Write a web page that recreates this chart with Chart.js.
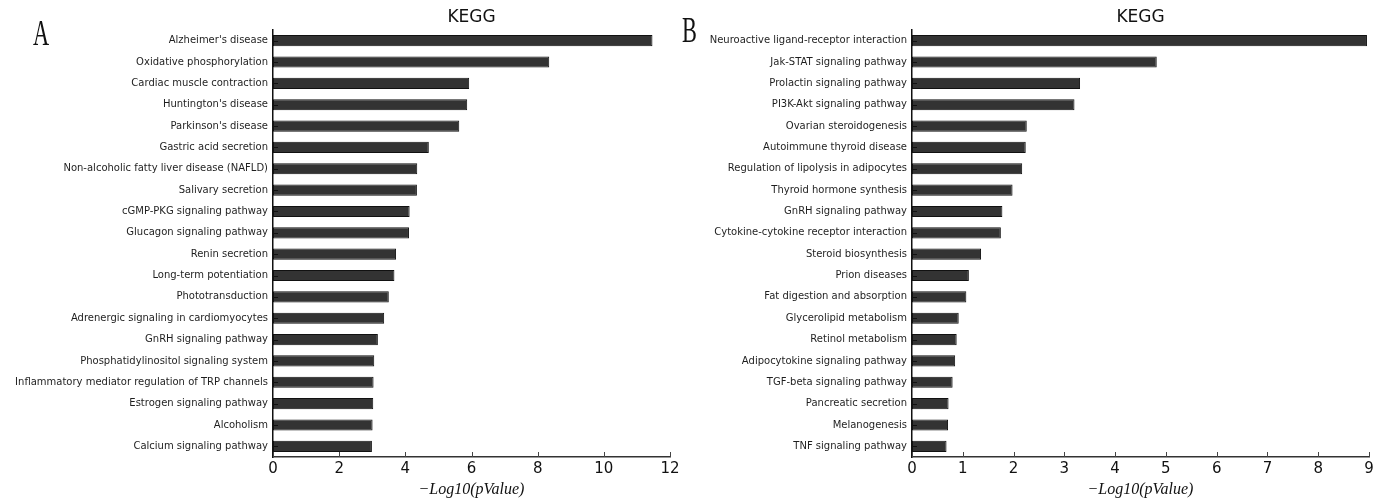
<!DOCTYPE html>
<html>
<head>
<meta charset="utf-8">
<script src="https://cdn.jsdelivr.net/npm/chart.js@4/dist/chart.umd.min.js"></script>
<style>
  html, body { margin: 0; padding: 0; background: #fff; }
  body { width: 1385px; height: 499px; position: relative; overflow: hidden; }
  canvas { position: absolute; top: 0; }
  #chartA { left: 0; }
  #chartB { left: 670px; }
</style>
</head>
<body>
<canvas id="chartA" width="690" height="499"></canvas>
<canvas id="chartB" width="715" height="499"></canvas>
<script>
// Panel A: KEGG pathways, -log10(p)
const pathwaysA = [
  "Alzheimer's disease",
  "Oxidative phosphorylation",
  "Cardiac muscle contraction",
  "Huntington's disease",
  "Parkinson's disease",
  "Gastric acid secretion",
  "Non-alcoholic fatty liver disease (NAFLD)",
  "Salivary secretion",
  "cGMP-PKG signaling pathway",
  "Glucagon signaling pathway",
  "Renin secretion",
  "Long-term potentiation",
  "Phototransduction",
  "Adrenergic signaling in cardiomyocytes",
  "GnRH signaling pathway",
  "Phosphatidylinositol signaling system",
  "Inflammatory mediator regulation of TRP channels",
  "Estrogen signaling pathway",
  "Alcoholism",
  "Calcium signaling pathway"
];
const scoresA = [11.47, 8.35, 5.93, 5.87, 5.63, 4.71, 4.36, 4.35, 4.13, 4.11,
                 3.72, 3.67, 3.50, 3.36, 3.17, 3.06, 3.04, 3.03, 3.01, 2.99];

// Panel B: KEGG pathways, -log10(p)
const pathwaysB = [
  "Neuroactive ligand-receptor interaction",
  "Jak-STAT signaling pathway",
  "Prolactin signaling pathway",
  "PI3K-Akt signaling pathway",
  "Ovarian steroidogenesis",
  "Autoimmune thyroid disease",
  "Regulation of lipolysis in adipocytes",
  "Thyroid hormone synthesis",
  "GnRH signaling pathway",
  "Cytokine-cytokine receptor interaction",
  "Steroid biosynthesis",
  "Prion diseases",
  "Fat digestion and absorption",
  "Glycerolipid metabolism",
  "Retinol metabolism",
  "Adipocytokine signaling pathway",
  "TGF-beta signaling pathway",
  "Pancreatic secretion",
  "Melanogenesis",
  "TNF signaling pathway"
];
const scoresB = [8.96, 4.82, 3.31, 3.20, 2.26, 2.24, 2.17, 1.98, 1.78, 1.75,
                 1.36, 1.12, 1.07, 0.92, 0.88, 0.85, 0.80, 0.72, 0.71, 0.68];

// x-axis ranges
const xMaxA = 12, xStepA = 2;
const xMaxB = 9,  xStepB = 1;

const panelTitle = "KEGG";
const axisTitle = "\u2212Log10(pValue)";

// Title, panel letter and inward tick marks
const decorPlugin = {
  id: 'decor',
  afterDatasetsDraw(chart, args, opts) {
    const ctx = chart.ctx;
    const area = chart.chartArea;
    const xs = chart.scales.x, ys = chart.scales.y;
    ctx.save();
    ctx.strokeStyle = '#111';
    ctx.lineWidth = 1;
    // y ticks pointing into the plot
    ys.ticks.forEach((t, i) => {
      const py = Math.round(ys.getPixelForTick(i)) + 0.5;
      ctx.beginPath();
      ctx.moveTo(area.left, py);
      ctx.lineTo(area.left + 5, py);
      ctx.stroke();
    });
    // x ticks pointing up
    ctx.strokeStyle = '#444';
    xs.ticks.forEach(t => {
      const px = Math.round(xs.getPixelForValue(t.value)) + 0.5;
      ctx.beginPath();
      ctx.moveTo(px, area.bottom);
      ctx.lineTo(px, area.bottom - 5);
      ctx.stroke();
    });
    ctx.restore();
  },
  afterDraw(chart, args, opts) {
    const ctx = chart.ctx;
    const area = chart.chartArea;
    ctx.save();
    ctx.fillStyle = '#111';
    ctx.font = '17px "DejaVu Sans"';
    ctx.textAlign = 'center';
    ctx.textBaseline = 'middle';
    ctx.fillText(panelTitle, (area.left + area.right) / 2, 18);
    // panel letter, narrow serif
    ctx.translate(opts.letterX, opts.letterY);
    ctx.scale(0.62, 1);
    ctx.font = '36px "Liberation Serif"';
    ctx.textAlign = 'left';
    ctx.textBaseline = 'alphabetic';
    ctx.fillText(opts.letter, 0, 0);
    ctx.restore();
  }
};

function makeChart(id, labels, values, xMax, xStep, yWidth, padRight, letter, letterX, letterY) {
  return new Chart(document.getElementById(id), {
    type: 'bar',
    data: {
      labels: labels,
      datasets: [{
        data: values,
        backgroundColor: '#333333',
        borderColor: '#111111',
        borderWidth: 1,
        borderSkipped: false,
        barPercentage: 0.52,
        categoryPercentage: 1.0
      }]
    },
    options: {
      indexAxis: 'y',
      responsive: false,
      animation: false,
      devicePixelRatio: 1,
      layout: { padding: { top: 30, right: padRight, left: 0, bottom: 0 } },
      plugins: {
        legend: { display: false },
        tooltip: { enabled: false },
        title: { display: false },
        decor: { letter: letter, letterX: letterX, letterY: letterY }
      },
      scales: {
        x: {
          type: 'linear',
          min: 0,
          max: xMax,
          grid: { display: false, drawTicks: false },
          border: { display: true, color: '#333', width: 1.5 },
          ticks: {
            stepSize: xStep,
            padding: 3,
            color: '#111',
            font: { family: 'DejaVu Sans', size: 15 }
          },
          title: {
            display: true,
            text: axisTitle,
            color: '#111',
            padding: { top: 0, bottom: 0 },
            font: { family: 'Liberation Serif', size: 16, style: 'italic' }
          },
          afterFit(scale) { scale.height = 42; }
        },
        y: {
          type: 'category',
          grid: { display: false, drawTicks: false },
          border: { display: true, color: '#111', width: 1.5 },
          ticks: {
            padding: 5,
            color: '#1e1e1e',
            autoSkip: false,
            font: { family: 'DejaVu Sans', size: 10 }
          },
          afterFit(scale) { scale.width = yWidth; }
        }
      }
    },
    plugins: [decorPlugin]
  });
}

makeChart('chartA', pathwaysA, scoresA, xMaxA, xStepA, 273, 20, 'A', 33, 45);
makeChart('chartB', pathwaysB, scoresB, xMaxB, xStepB, 242, 16, 'B', 12, 42);
</script>
</body>
</html>
